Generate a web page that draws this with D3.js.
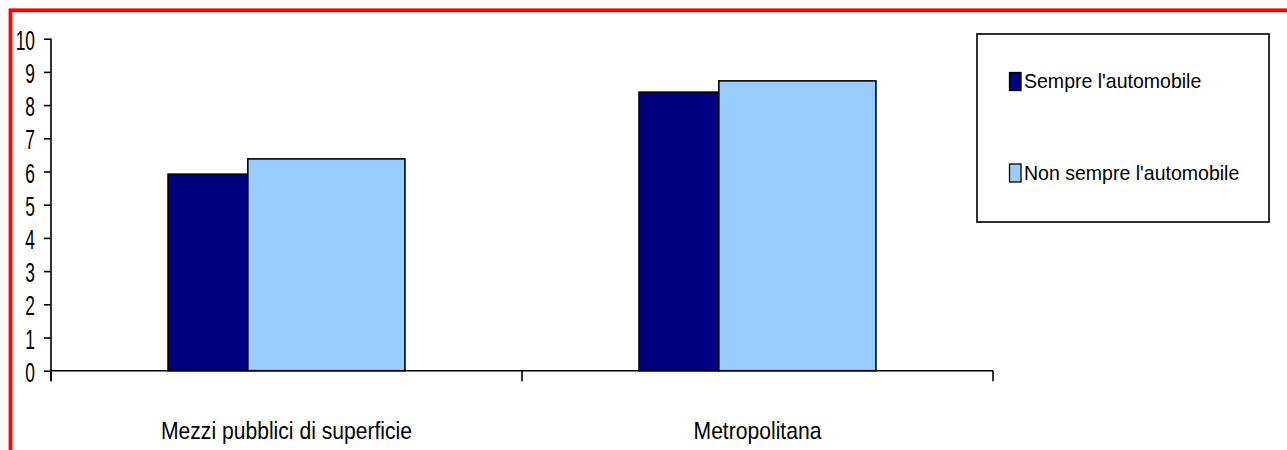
<!DOCTYPE html>
<html>
<head>
<meta charset="utf-8">
<script src="https://cdn.jsdelivr.net/npm/d3@7"></script>
<style>
  html, body { margin: 0; padding: 0; background: #fff; overflow: hidden; }
  text { font-family: "Liberation Sans", Arial, sans-serif; fill: #000; }
</style>
</head>
<body>
<svg id="chart" width="1287" height="450"></svg>
<script>
// ---- data ----
const categories = ["Mezzi pubblici di superficie", "Metropolitana"];
const seriesNames = ["Sempre l'automobile", "Non sempre l'automobile"];
const sempreValues = [5.92, 8.39];
const nonSempreValues = [6.38, 8.73];
const yTicks = [0, 1, 2, 3, 4, 5, 6, 7, 8, 9, 10];
const seriesColors = ["#000080", "#99CCFF"];

// ---- layout ----
const svg = d3.select("#chart");
const margin = { left: 51, right: 294, top: 38.7, bottom: 79.3 };
const W = 1287, H = 450;
const x0 = margin.left, x1 = W - margin.right; // 51 .. 993
const yTop = margin.top, yBottom = H - margin.bottom; // 38.7 .. 370.7

// red outer frame
svg.append("rect")
  .attr("x", 10.5).attr("y", 10.3)
  .attr("width", 1400).attr("height", 600)
  .attr("fill", "none").attr("stroke", "#ff0000").attr("stroke-width", 3.8);

const x = d3.scaleBand().domain(categories).range([x0, x1])
  .paddingInner(0.497).paddingOuter(0.2485);
const y = d3.scaleLinear().domain([0, 10]).range([yBottom, yTop]);

// unequal sub-widths per series inside a group (as in the original)
const seriesShare = [1, 1.97];
const shareCum = [0, seriesShare[0], seriesShare[0] + seriesShare[1]];
const sub = d3.scaleLinear().domain([0, shareCum[2]]).range([0, x.bandwidth()]);

const series = [sempreValues, nonSempreValues];
const bars = [];
series.forEach((vals, si) => {
  categories.forEach((c, ci) => bars.push({ c, si, v: vals[ci] }));
});

svg.append("g").selectAll("rect").data(bars).join("rect")
  .attr("x", d => x(d.c) + sub(shareCum[d.si]))
  .attr("width", d => sub(shareCum[d.si + 1]) - sub(shareCum[d.si]))
  .attr("y", d => y(d.v))
  .attr("height", d => y(0) - y(d.v))
  .attr("fill", d => seriesColors[d.si])
  .attr("stroke", "#000").attr("stroke-width", 1.6);

// y axis
const yAxis = svg.append("g").attr("transform", `translate(${x0},0)`)
  .call(d3.axisLeft(y).tickValues(yTicks).tickSize(7).tickSizeOuter(0).tickFormat(d3.format("d")));
yAxis.select(".domain").attr("stroke", "#000").attr("stroke-width", 1.6)
  .attr("d", `M0,${yTop}V${yBottom + 10.5}`);
yAxis.selectAll(".tick line").attr("stroke", "#000").attr("stroke-width", 1.6);
yAxis.selectAll(".tick text")
  .attr("x", null).attr("dy", null)
  .attr("transform", "translate(-16,10.5) scale(0.62,1)")
  .attr("font-size", 28)
  .attr("font-family", "'Liberation Sans', Arial, sans-serif")
  .attr("text-anchor", "end").attr("fill", "#000");

// x axis
const xEdges = [x0, (x0 + x1) / 2, x1];
const xAxisG = svg.append("g");
xAxisG.append("line")
  .attr("x1", x0).attr("x2", x1).attr("y1", yBottom).attr("y2", yBottom)
  .attr("stroke", "#000").attr("stroke-width", 1.6);
xAxisG.selectAll("line.tick").data(xEdges).join("line").attr("class", "tick")
  .attr("x1", d => d).attr("x2", d => d)
  .attr("y1", yBottom).attr("y2", yBottom + 10.5)
  .attr("stroke", "#000").attr("stroke-width", 1.6);
xAxisG.selectAll("text").data(categories).join("text")
  .attr("transform", d => `translate(${x(d) + x.bandwidth() / 2},${yBottom + 68}) scale(0.88,1)`)
  .attr("text-anchor", "middle")
  .attr("font-size", 24)
  .text(d => d);

// legend
const lg = svg.append("g");
lg.append("rect")
  .attr("x", 977).attr("y", 34).attr("width", 292).attr("height", 188)
  .attr("fill", "#fff").attr("stroke", "#000").attr("stroke-width", 1.6);
const legendY = [72, 163.5];
const items = lg.selectAll("g.item").data(seriesNames).join("g").attr("class", "item")
  .attr("transform", (d, i) => `translate(1009,${legendY[i]})`);
items.append("rect")
  .attr("x", 0.5).attr("y", 0.5).attr("width", 11.5).attr("height", 18)
  .attr("fill", (d, i) => seriesColors[i]).attr("stroke", "#000").attr("stroke-width", 1.3);
items.append("text")
  .attr("transform", "translate(15,16) scale(0.93,1)")
  .attr("font-size", 21)
  .text(d => d);
</script>
</body>
</html>
